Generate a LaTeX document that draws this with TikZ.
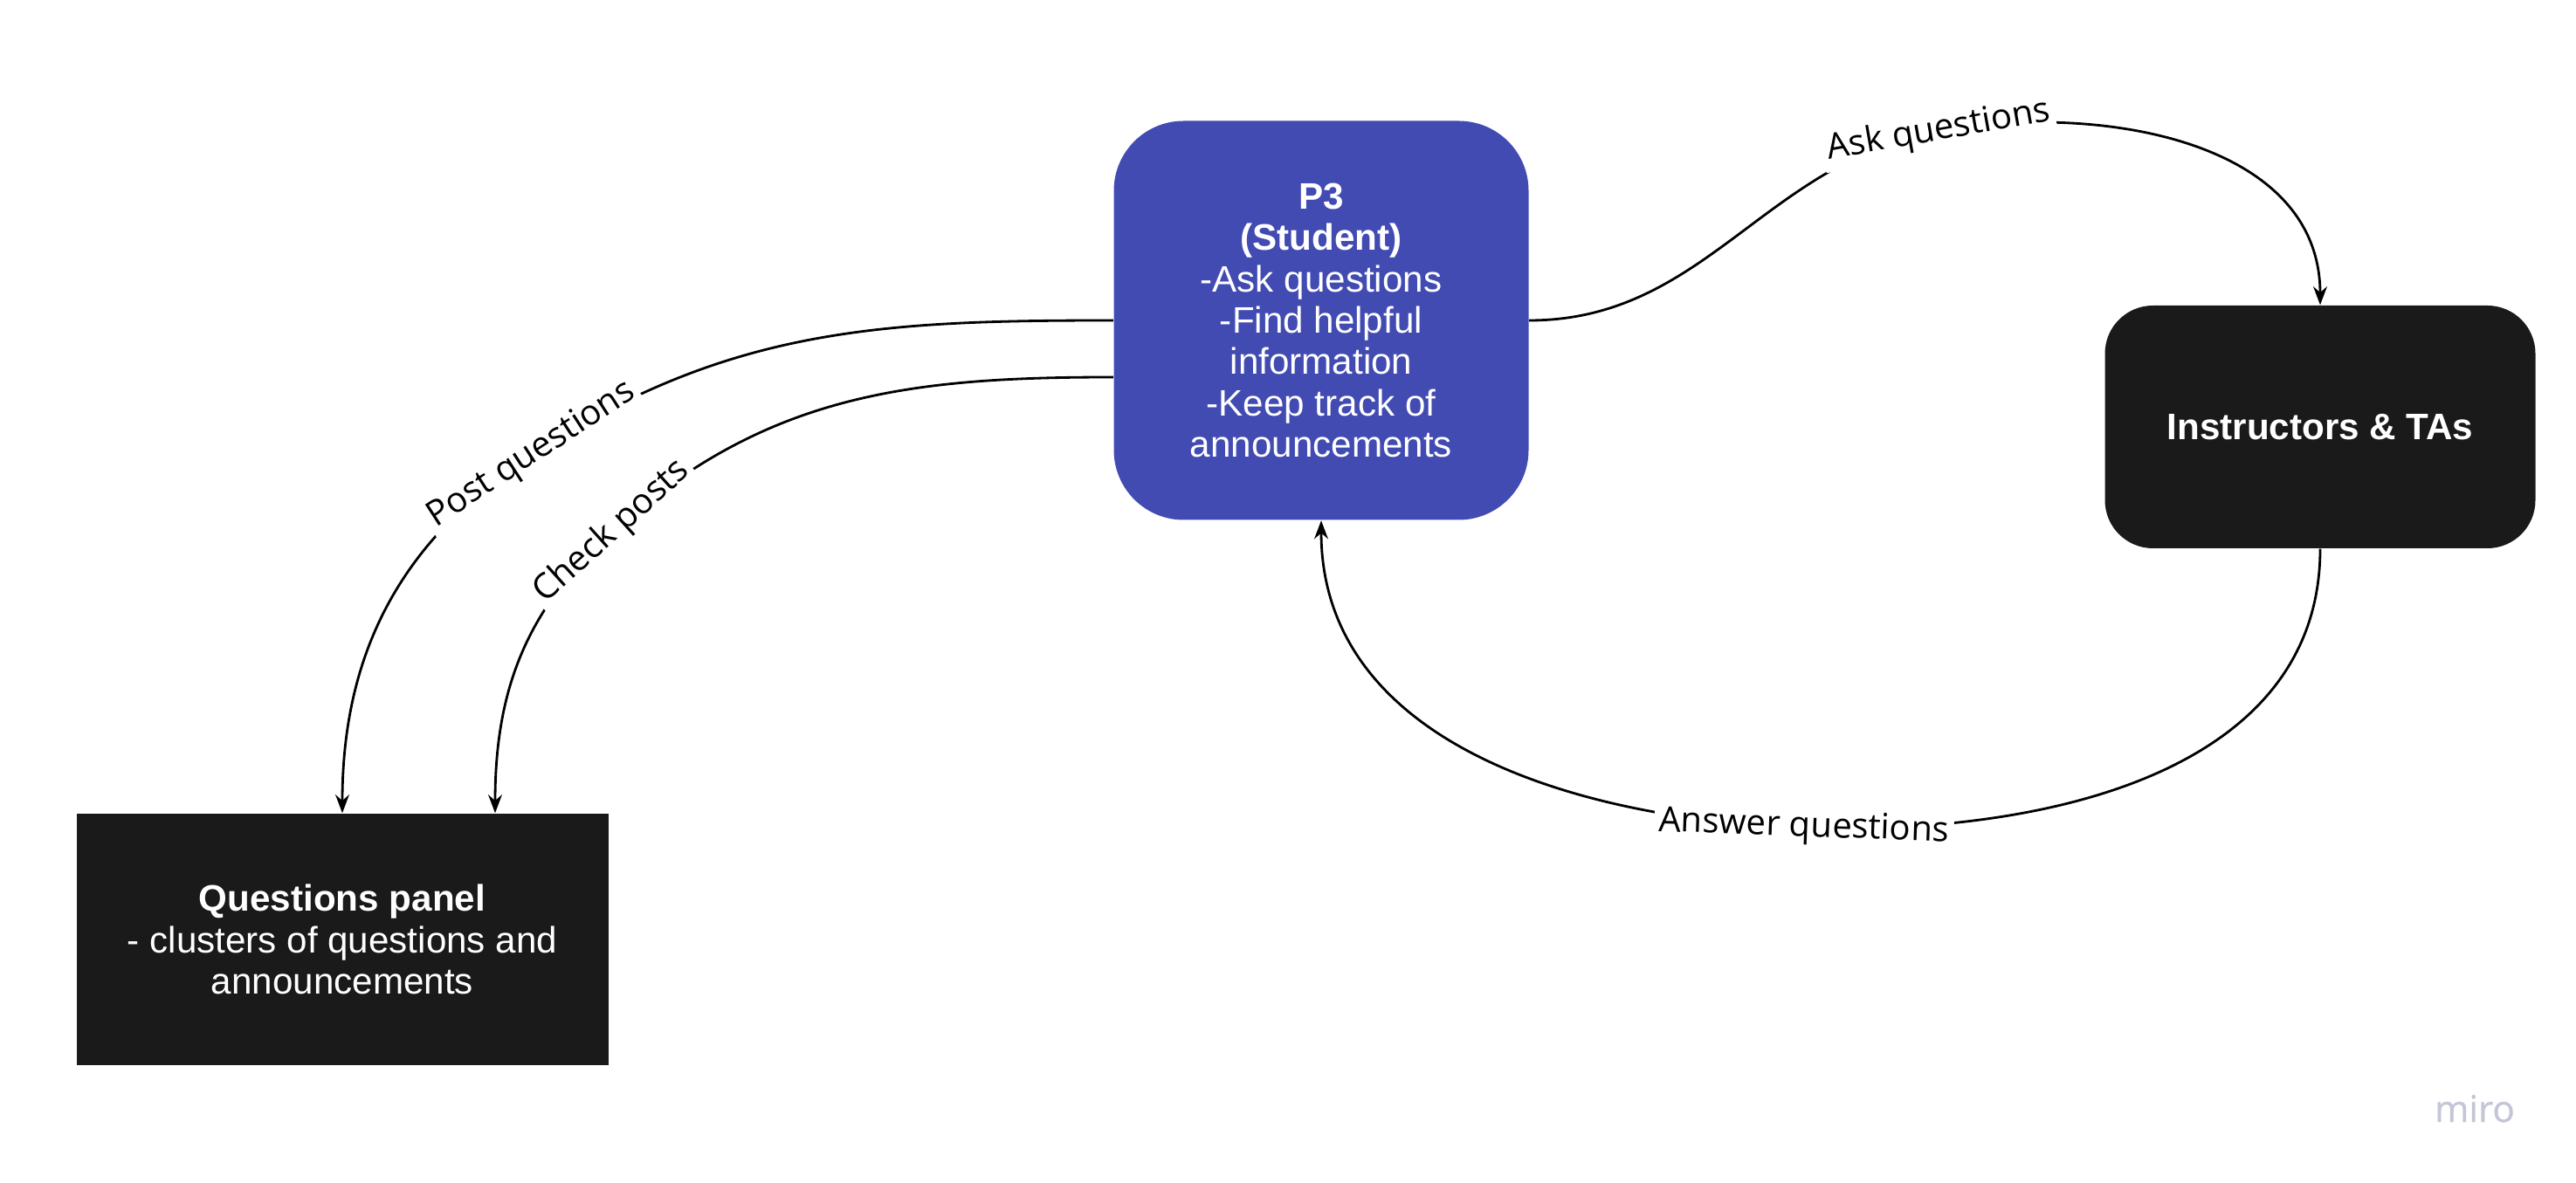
\documentclass[tikz,border=0pt]{standalone}
\usepackage{fontspec}
\setmainfont{Liberation Sans}
\newfontfamily\labelfont{Open Sans}
\newfontfamily\mirofont[FakeBold=0.8]{Open Sans}
\usetikzlibrary{arrows.meta}
\definecolor{studentblue}{RGB}{66,75,178}
\definecolor{boxblack}{RGB}{26,26,26}
\definecolor{mirogray}{RGB}{196,198,214}

\begin{document}
\begin{tikzpicture}[every text node part/.style={align=center},
	box/.style={fill=boxblack, text=white, inner sep=0pt, font=\fontsize{12}{13.5}\selectfont},
	flow/.style={black, line width=0.8pt, -{Stealth[length=6pt,width=4.5pt]}},
	flowlabel/.style={sloped, fill=white, inner sep=1.5pt, font=\labelfont\fontsize{11.4}{13}\selectfont}]
		
		\fill[white] (0,0) rectangle (29.5,-13.55);
		\useasboundingbox (0,0) rectangle (29.5,-13.55);
		
		\node[box, fill=studentblue, rounded corners=0.8cm, minimum width=4.75cm, minimum height=4.57cm] (student) at (15.13,-3.67) {\textbf{P3}\\\textbf{(Student)}\\-Ask questions\\-Find helpful\\information\\-Keep track of\\announcements};
		
		\node[box, rounded corners=0.55cm, minimum width=4.93cm, minimum height=2.78cm] (staff) at (26.57,-4.89) {\textbf{Instructors \& TAs}};
		
		\node[box, minimum width=6.09cm, minimum height=2.88cm] (panel) at (3.92,-10.76) {\textbf{Questions panel}\\- clusters of questions and\\announcements};
		
		\coordinate (askmid) at (22.2,-1.5);
		\coordinate (postmid) at (6.09,-5.21);
		\coordinate (checkmid) at (7.01,-6.09);
		\coordinate (answermid) at (20.66,-9.48);
		
		\draw[flow] (student.east) to[out=0,in=190] node[flowlabel, pos=1] {Ask questions} (askmid) to[out=10,in=90] (staff.north);
		
		\draw[flow] (student.west) to[out=180,in=33] node[flowlabel, pos=1] {Post questions} (postmid) to[out=213,in=90] (panel.north);
		
		\draw[flow] ([yshift=-0.65cm]student.west) to[out=180,in=42] node[flowlabel, pos=1] {Check posts} (checkmid) to[out=222,in=90] ([xshift=1.75cm]panel.north);
		
		\draw[flow] (staff.south) to[out=-90,in=-2] node[flowlabel, pos=1] {Answer questions} (answermid) to[out=178,in=-90] (student.south);
		
		\node[anchor=base, text=mirogray, font=\mirofont\fontsize{12}{14}\selectfont] (miro) at (28.34,-12.85) {miro};
		
		\end{tikzpicture}
\end{document}
